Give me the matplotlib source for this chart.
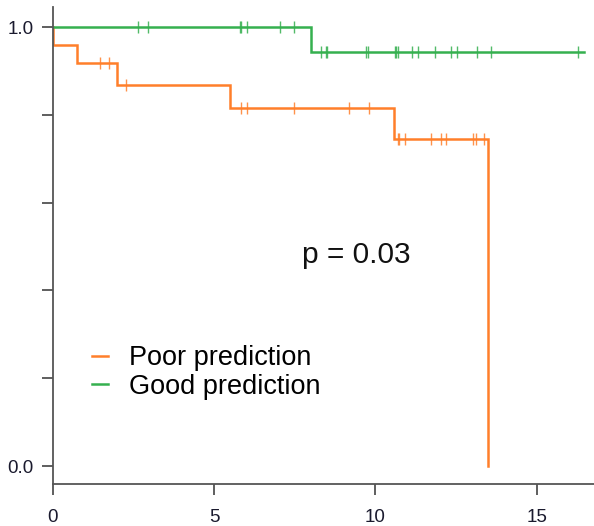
"""Kaplan-Meier style survival curves: poor vs good prediction."""

import numpy as np
import matplotlib

matplotlib.use("Agg")
import matplotlib.pyplot as plt

# step curves (event times and survival after each step)
poor_times = [0.0, 0.0, 0.76, 1.98, 5.49, 10.56, 13.50]
poor_surv = [1.0, 0.958, 0.918, 0.868, 0.816, 0.745, 0.0]
good_times = [0.0, 8.00, 16.45]
good_surv = [1.0, 0.943, 0.943]

# censoring marks
poor_censor = [1.47, 1.74, 2.27, 5.84, 6.03, 7.48, 9.19, 9.79,
               10.69, 10.74, 10.90, 11.71, 12.03, 12.18, 13.02, 13.12, 13.37]
good_censor = [2.63, 2.94, 5.81, 5.84, 6.01, 7.04, 7.49, 8.30, 8.46, 8.51,
               9.71, 9.76, 10.60, 10.64, 10.69, 11.12, 11.33, 11.83, 12.35,
               12.52, 13.16, 13.58, 16.26]

labels = ["Poor prediction", "Good prediction"]
p_text = "p = 0.03"

ORANGE = "#ff7f2a"
GREEN = "#35b04f"

plt.rcParams.update({
    "font.family": ["Liberation Sans", "DejaVu Sans"],
    "figure.facecolor": "white",
    "axes.facecolor": "white",
})


def surv_at(times, surv, t):
    i = np.searchsorted(np.asarray(times), t, side="right") - 1
    return surv[i]


fig = plt.figure(figsize=(5.94, 5.26), dpi=100)
ax = fig.add_axes([52.7 / 594, 42 / 526, (594 - 52.7) / 594, 477 / 526])

series = [
    (poor_times, poor_surv, poor_censor, ORANGE, labels[0]),
    (good_times, good_surv, good_censor, GREEN, labels[1]),
]
for times, surv, cens, color, label in series:
    ax.step(times, surv, where="post", color=color, lw=1.8, label=label,
            solid_joinstyle="miter")
    cy = [surv_at(times, surv, t) for t in cens]
    ax.plot(cens, cy, ls="none", marker="|", ms=8, mew=1.0,
            color=color, alpha=0.85)

ax.set_xlim(0, 16.77)
ax.set_ylim(-0.041, 1.0456)

ax.set_xticks([0, 5, 10, 15])
ax.set_yticks([0, 0.2, 0.4, 0.6, 0.8, 1.0])
ax.set_yticklabels(["0.0", "", "", "", "", "1.0"])

for s in ("top", "right"):
    ax.spines[s].set_visible(False)
for s in ("left", "bottom"):
    ax.spines[s].set_color("#555555")
    ax.spines[s].set_linewidth(1.3)
ax.tick_params(length=8, width=1.1, color="#333333", labelsize=13.5,
               labelcolor="#1a1a2e", pad=6)
ax.tick_params(axis="x", pad=10)

ax.text(9.40, 0.481, p_text, fontsize=21.5, ha="center", va="center",
        color="#111111")

ax.legend(loc="center left", bbox_to_anchor=(0.0726, 0.2338),
          frameon=False, fontsize=19.5, handlelength=0.6, handletextpad=0.75,
          labelspacing=0.1, borderpad=0, borderaxespad=0)

fig.savefig("out.png", dpi=100)
